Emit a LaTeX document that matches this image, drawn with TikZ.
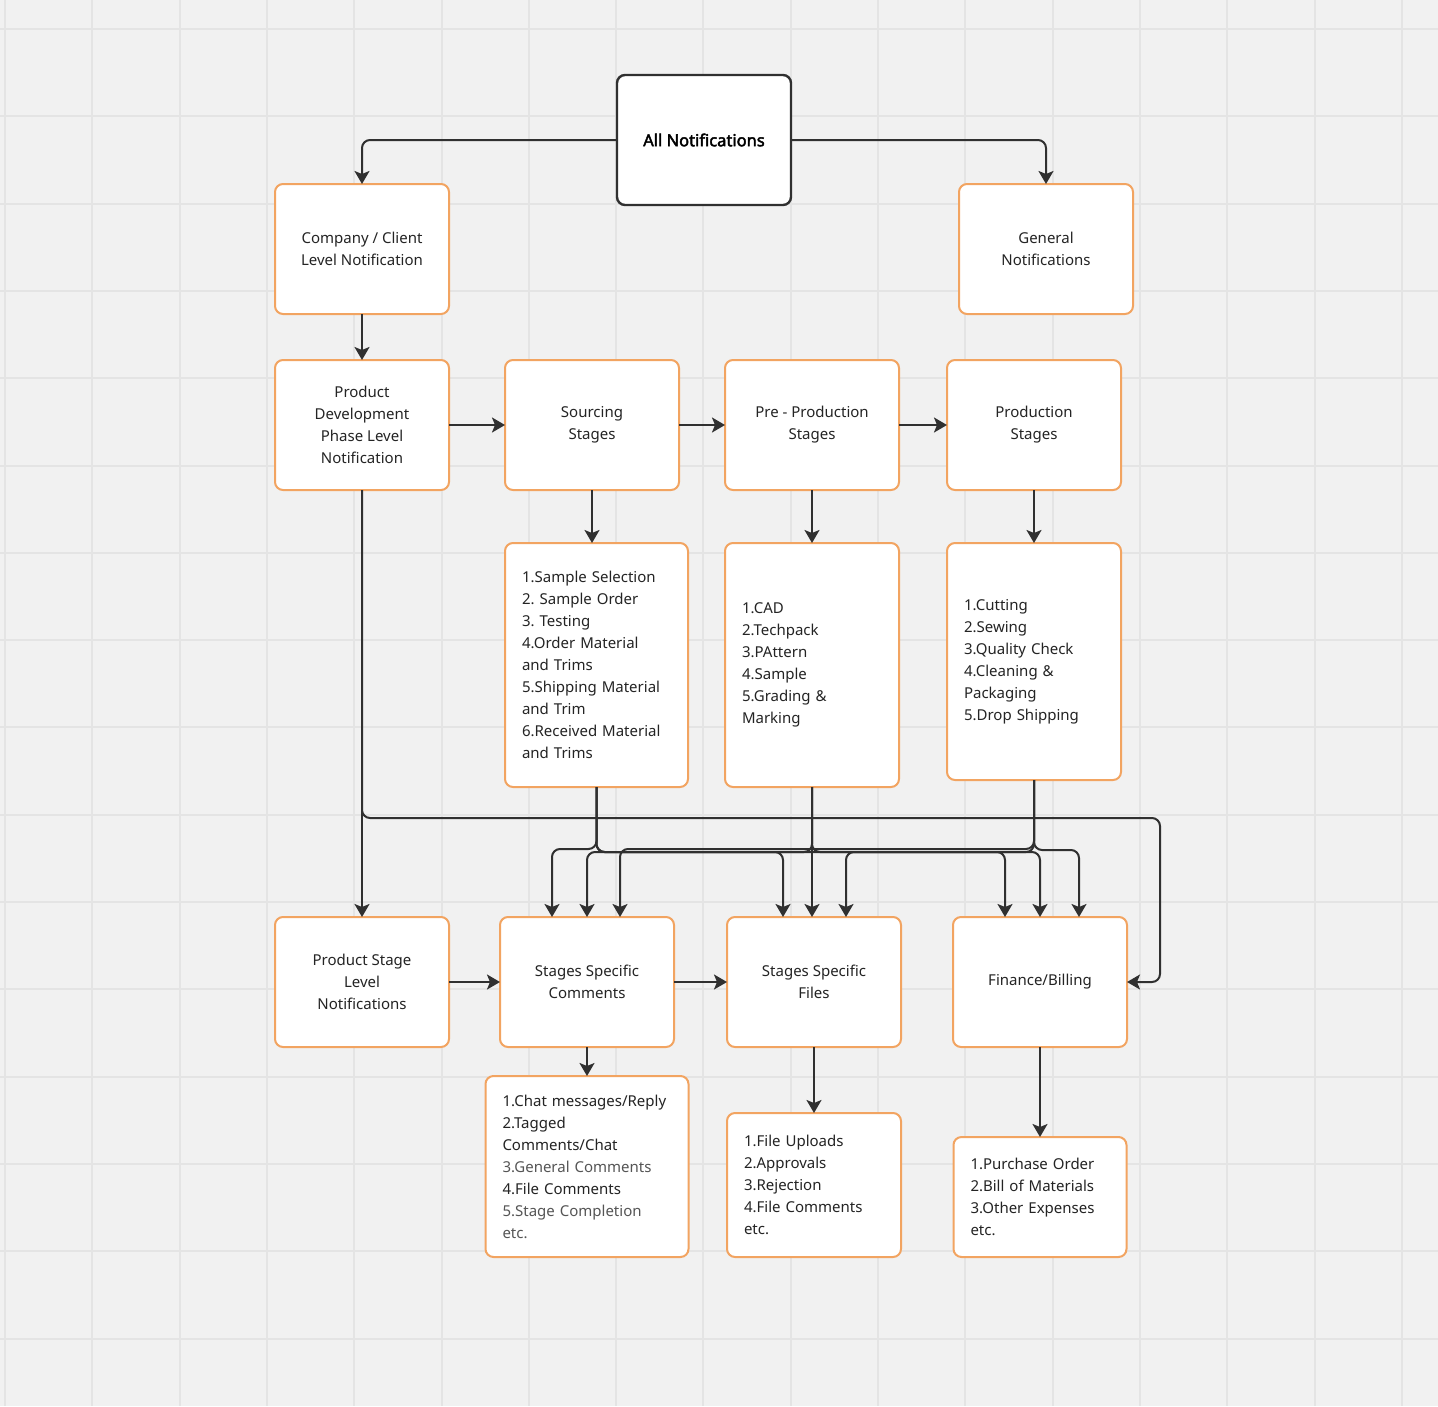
\documentclass[tikz,border=0pt]{standalone}
\usepackage{fontspec}
\setmainfont{Noto Sans}[AutoFakeBold=2.5]
\usetikzlibrary{arrows.meta, positioning, calc}
\definecolor{boardBg}{RGB}{241,241,241}
\definecolor{boardGrid}{RGB}{228,228,228}
\definecolor{stageOrange}{RGB}{242,164,97}
\definecolor{flowLine}{RGB}{48,48,48}
\definecolor{inkText}{RGB}{36,36,36}
\definecolor{softText}{RGB}{85,85,85}
\frenchspacing

\begin{document}
\begin{tikzpicture}[
    x=1pt, y=-1pt,
    font=\fontsize{15}{22}\selectfont\color{inkText},
    box/.style={draw=stageOrange, line width=2pt, rounded corners=8pt, fill=white, minimum width=174pt, minimum height=130pt, align=center, inner sep=0pt, outer sep=0pt},
    root/.style={box, draw=flowLine, line width=2.4pt, font=\fontsize{16.5}{22}\selectfont\bfseries},
    listbox/.style={draw=stageOrange, line width=2pt, rounded corners=8pt, fill=white, align=left, inner xsep=17pt, inner ysep=0pt, outer sep=0pt},
    arrow/.style={-{Stealth[length=13pt, width=15pt, inset=3pt]}, line width=2pt, draw=flowLine, rounded corners=8pt},
    gridline/.style={draw=boardGrid, line width=2pt}
]
    % board
    \fill[boardBg] (0,0) rectangle (1438,1406);
    \useasboundingbox (0,0) rectangle (1438,1406);
    \foreach \k in {0,...,16} {
        \draw[gridline] (5+87.3*\k,0) -- (5+87.3*\k,1406);
        \draw[gridline] (0,29+87.3*\k) -- (1438,29+87.3*\k);
    }

    % top rows
    \node[root] (all) at (704,140) {All Notifications};
    \node[box] (company) at (362,249) {Company / Client\\Level Notification};
    \node[box] (general) at (1046,249) {General\\Notifications};
    \node[box, below=46pt of company] (proddev) {Product\\Development\\Phase Level\\Notification};
    \node[box, right=56pt of proddev] (sourcing) {Sourcing\\Stages};
    \node[box, right=46pt of sourcing] (preprod) {Pre - Production\\Stages};
    \node[box, right=48pt of preprod] (production) {Production\\Stages};

    % stage lists
    \node[listbox, text width=149pt, minimum height=244pt, below=53pt of sourcing.south west, anchor=north west] (srclist)
        {1.Sample Selection\\2. Sample Order\\3. Testing\\4.Order Material\\and Trims\\5.Shipping Material\\and Trim\\6.Received Material\\and Trims};
    \node[listbox, text width=140pt, minimum height=244pt, below=53pt of preprod] (prelist)
        {1.CAD\\2.Techpack\\3.PAttern\\4.Sample\\5.Grading \&\\Marking};
    \node[listbox, text width=140pt, minimum height=237pt, below=53pt of production] (prodlist)
        {1.Cutting\\2.Sewing\\3.Quality Check\\4.Cleaning \&\\Packaging\\5.Drop Shipping};

    % bottom rows
    \node[box, below=427pt of proddev] (stagelevel) {Product Stage\\Level\\Notifications};
    \node[box, right=51pt of stagelevel] (comments) {Stages Specific\\Comments};
    \node[box, right=53pt of comments] (files) {Stages Specific\\Files};
    \node[box, right=52pt of files] (finance) {Finance/Billing};
    \node[listbox, text width=169pt, minimum height=181pt, below=29pt of comments] (comlist)
        {1.Chat messages/Reply\\2.Tagged\\Comments/Chat\\{\color{softText}3.General Comments}\\4.File Comments\\{\color{softText}5.Stage Completion}\\{\color{softText}etc.}};
    \node[listbox, text width=140pt, minimum height=144pt, below=66pt of files] (filelist)
        {1.File Uploads\\2.Approvals\\3.Rejection\\4.File Comments\\etc.};
    \node[listbox, text width=139pt, minimum height=120pt, below=90pt of finance] (finlist)
        {1.Purchase Order\\2.Bill of Materials\\3.Other Expenses\\etc.};

    \coordinate (finturn) at (1160,818);

    % top connectors
    \draw[arrow] (all.west) -| (company.north);
    \draw[arrow] (all.east) -| (general.north);
    \draw[arrow] (company) -- (proddev);
    \draw[arrow] (proddev) -- (sourcing);
    \draw[arrow] (sourcing) -- (preprod);
    \draw[arrow] (preprod) -- (production);
    \draw[arrow] (sourcing.south) -- (sourcing.south |- srclist.north);
    \draw[arrow] (preprod) -- (prelist);
    \draw[arrow] (production) -- (prodlist);

    % phase line down and round to billing
    \draw[arrow] (proddev) -- (stagelevel);
    \draw[arrow] (proddev.south) |- (finturn) |- (finance.east);

    % lists into the bottom row
    \draw[arrow] (srclist.south) -- ++(0,62) -| ($(comments.north)+(-35,0)$);
    \draw[arrow] (srclist.south) -- ++(0,65) -| ($(files.north)+(-31,0)$);
    \draw[arrow] (srclist.south) -- ++(0,65) -| ($(finance.north)+(-35,0)$);
    \draw[arrow] (prelist.south) -- ++(0,65) -| (comments.north);
    \draw[arrow] (prelist.south) -- (prelist.south |- files.north);
    \draw[arrow] (prelist.south) -- ++(0,65) -| (finance.north);
    \draw[arrow] (prodlist.south) -- ++(0,69) -| ($(comments.north)+(33,0)$);
    \draw[arrow] (prodlist.south) -- ++(0,72) -| ($(files.north)+(32,0)$);
    \draw[arrow] (prodlist.south) -- ++(0,70) -| ($(finance.north)+(39,0)$);

    % bottom connectors
    \draw[arrow] (stagelevel) -- (comments);
    \draw[arrow] (comments) -- (files);
    \draw[arrow] (comments) -- (comlist);
    \draw[arrow] (files) -- (filelist);
    \draw[arrow] (finance) -- (finlist);
\end{tikzpicture}
\end{document}
